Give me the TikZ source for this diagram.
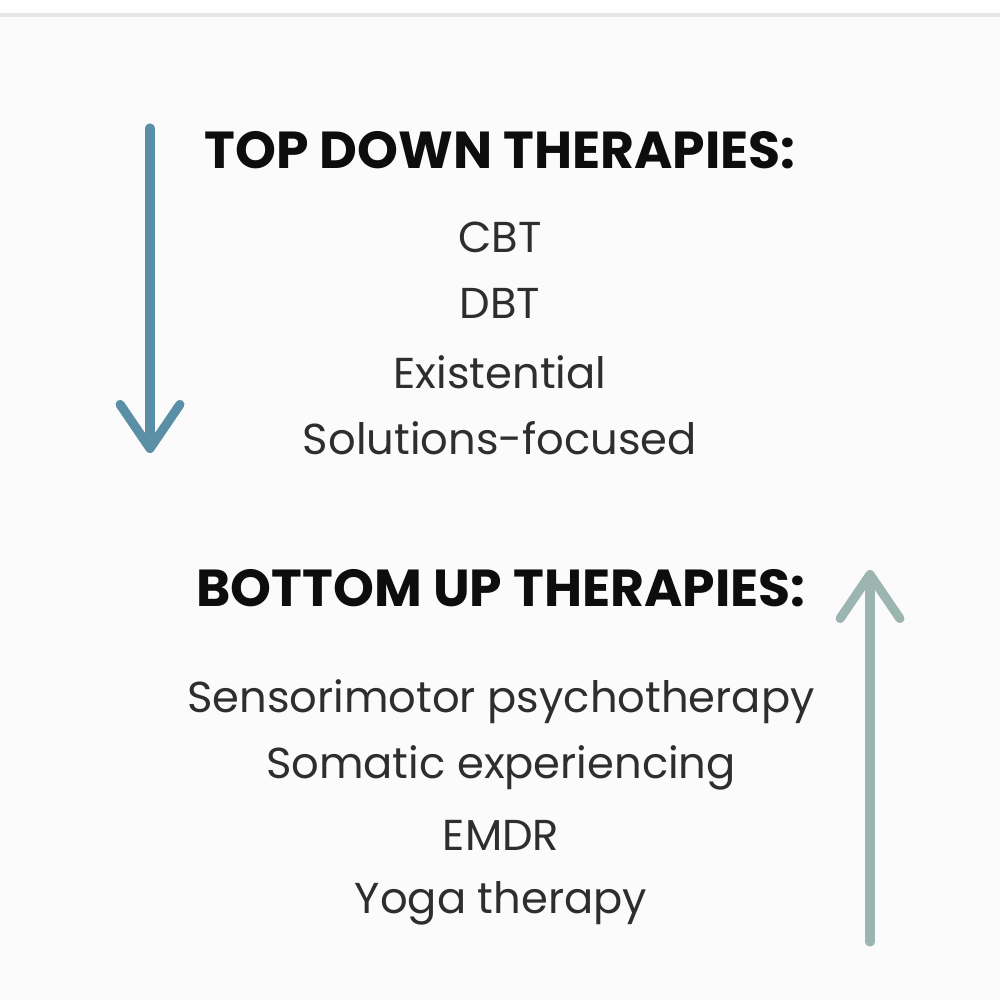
\documentclass[tikz,border=0pt]{standalone}
\usepackage{fontspec}
\setmainfont{Poppins}
\usetikzlibrary{positioning,arrows.meta}
\definecolor{downblue}{HTML}{5A8FA5}
\definecolor{upgreen}{HTML}{9DB5B0}
\definecolor{pagegray}{HTML}{FBFBFB}
\definecolor{rulegray}{HTML}{E6E6E6}
\definecolor{itemgray}{HTML}{2E2E2E}

\begin{document}
\begin{tikzpicture}[x=0.01cm, y=-0.01cm,
    heading/.style={font=\fontsize{14.8}{17}\selectfont\bfseries, text=black!95, inner sep=0pt},
    item/.style={font=\fontsize{12.3}{14}\selectfont, text=itemgray, inner sep=0pt},
    flow/.style={line width=2.6pt, line cap=round,
      -{Straight Barb[length=12.5pt, width=17pt, round]}}]
  % Page
  \useasboundingbox (0,0) rectangle (1000,1000);
  \fill[white] (0,0) rectangle (1000,1000);
  \fill[pagegray] (0,17) rectangle (1000,1000);
  \draw[rulegray, line width=0.9pt] (0,15) -- (1000,15);
  % Top down
  \node[heading] (tophead) at (500,150) {TOP DOWN THERAPIES:};
  \node[item] (cbt) at (500,237) {CBT};
  \node[item] (dbt) at (500,303) {DBT};
  \node[item] (exist) at (500,372) {Existential};
  \node[item] (solfoc) at (500,438) {Solutions-focused};
  % Bottom up
  \node[heading] (bothead) at (501,588) {BOTTOM UP THERAPIES:};
  \node[item] (senso) at (501,702) {Sensorimotor psychotherapy};
  \node[item] (somatic) at (501,768) {Somatic experiencing};
  \node[item] (emdr) at (501,835) {EMDR};
  \node[item] (yoga) at (501,903) {Yoga therapy};
  % Arrows
  \coordinate (downstart) at (150,128);
  \coordinate (downend) at (150,453);
  \coordinate (upstart) at (870,942);
  \coordinate (upend) at (870,570);
  \draw[flow, downblue] (downstart) -- (downend);
  \draw[flow, upgreen] (upstart) -- (upend);
\end{tikzpicture}
\end{document}
